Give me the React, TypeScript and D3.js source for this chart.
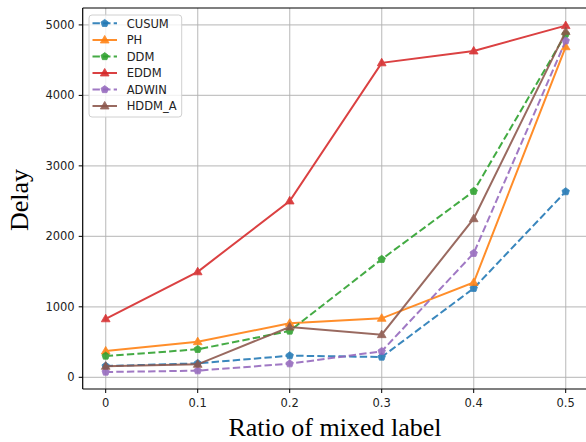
import React from "react";
import * as d3 from "d3";

const ratios = [0, 0.1, 0.2, 0.3, 0.4, 0.5];
const xTicks = [0, 0.1, 0.2, 0.3, 0.4, 0.5];
const yTicks = [0, 1000, 2000, 3000, 4000, 5000];

const cusum = [160, 198, 307, 288, 1263, 2635];
const ph = [373, 505, 766, 837, 1345, 4690];
const ddm = [302, 397, 657, 1675, 2640, 4870];
const eddm = [830, 1497, 2502, 4462, 4630, 4990];
const adwin = [75, 94, 193, 369, 1760, 4775];
const hddmA = [156, 184, 714, 605, 2250, 4905];

const seriesNames = ["CUSUM", "PH", "DDM", "EDDM", "ADWIN", "HDDM_A"];
const seriesValues = [cusum, ph, ddm, eddm, adwin, hddmA];
const seriesColors = ["#1f77b4", "#ff7f0e", "#2ca02c", "#d62728", "#9467bd", "#8c564b"];
const seriesDashed = [true, false, true, false, true, false];
const seriesMarker = ["p", "^", "p", "^", "p", "^"];

const W = 586;
const H = 442;
const left = 82.7;
const right = 588.7;
const top = 8;
const bottom = 389;

function pentagon(r: number) {
  const pts: [number, number][] = [];
  for (let i = 0; i < 5; i++) {
    const a = -Math.PI / 2 + (i * 2 * Math.PI) / 5;
    pts.push([r * Math.cos(a), r * Math.sin(a)]);
  }
  return "M" + pts.map((p) => p.join(",")).join("L") + "Z";
}
function triangle(r: number) {
  return `M0,${-r}L${r * 0.95},${r * 0.65}L${-r * 0.95},${r * 0.65}Z`;
}

function Marker({ kind, x, y, color }: { kind: string; x: number; y: number; color: string }) {
  const d = kind === "^" ? triangle(4.6) : pentagon(3.9);
  return <path d={d} transform={`translate(${x},${y})`} fill={color} stroke={color} strokeWidth={0.8} />;
}

export default function App() {
  const x = d3.scaleLinear().domain([-0.025, 0.525]).range([left, right]);
  const y = d3.scaleLinear().domain([-166, 5240]).range([bottom, top]);
  const line = d3
    .line<number>()
    .x((_, i) => x(ratios[i]))
    .y((d) => y(d));

  const tickFont = "DejaVu Sans, sans-serif";
  const legX = 89;
  const legY = 15;
  const rowY = [23.3, 40, 56.5, 73, 89.5, 106];

  return (
    <svg width={W} height={H} style={{ position: "absolute", left: 0, top: 0, background: "#fff" }}>
      <rect x={0} y={0} width={W} height={H} fill="#fff" />
      <defs>
        <clipPath id="plot">
          <rect x={left} y={top} width={right - left} height={bottom - top} />
        </clipPath>
      </defs>
      {/* grid */}
      <g stroke="#b0b0b0" strokeWidth={1.2} strokeOpacity={0.75}>
        {xTicks.map((t) => (
          <line key={"gx" + t} x1={x(t)} x2={x(t)} y1={top} y2={bottom} />
        ))}
        {yTicks.map((t) => (
          <line key={"gy" + t} x1={left} x2={right} y1={y(t)} y2={y(t)} />
        ))}
      </g>
      {/* series */}
      <g clipPath="url(#plot)">
        {seriesValues.map((vals, si) => (
          <g key={seriesNames[si]} opacity={0.88}>
            <path
              d={line(vals) || ""}
              fill="none"
              stroke={seriesColors[si]}
              strokeWidth={2}
              strokeDasharray={seriesDashed[si] ? "7.4,3.2" : undefined}
            />
            {vals.map((v, i) => (
              <Marker key={i} kind={seriesMarker[si]} x={x(ratios[i])} y={y(v)} color={seriesColors[si]} />
            ))}
          </g>
        ))}
      </g>
      {/* spines */}
      <g stroke="#000" strokeWidth={1.2} fill="none">
        <line x1={left} x2={left} y1={top} y2={bottom} />
        <line x1={left} x2={right} y1={top} y2={top} />
        <line x1={left} x2={right} y1={bottom} y2={bottom} />
        <line x1={right} x2={right} y1={top} y2={bottom} />
      </g>
      {/* ticks */}
      <g stroke="#000" strokeWidth={1}>
        {xTicks.map((t) => (
          <line key={"tx" + t} x1={x(t)} x2={x(t)} y1={bottom} y2={bottom + 4} />
        ))}
        {yTicks.map((t) => (
          <line key={"ty" + t} x1={left - 4} x2={left} y1={y(t)} y2={y(t)} />
        ))}
      </g>
      <g fontFamily={tickFont} fontSize={11.5} fill="#222">
        {xTicks.map((t) => (
          <text key={"lx" + t} x={x(t)} y={bottom + 18} textAnchor="middle">
            {d3.format("~g")(t)}
          </text>
        ))}
        {yTicks.map((t) => (
          <text key={"ly" + t} x={left - 8} y={y(t) + 4} textAnchor="end">
            {t}
          </text>
        ))}
      </g>
      {/* axis labels */}
      <text
        x={335}
        y={436}
        textAnchor="middle"
        fontFamily="Liberation Serif, Times New Roman, serif"
        fontSize={26}
        fill="#000"
      >
        Ratio of mixed label
      </text>
      <text
        transform="translate(28,200) rotate(-90)"
        textAnchor="middle"
        fontFamily="Liberation Serif, Times New Roman, serif"
        fontSize={26}
        fill="#000"
      >
        Delay
      </text>
      {/* legend */}
      <rect x={legX} y={legY} width={92.7} height={102} rx={3} fill="#fff" fillOpacity={0.8} stroke="#d0d0d0" strokeWidth={1} />
      {seriesNames.map((name, si) => (
        <g key={"leg" + name}>
          <line
            x1={92.5}
            x2={117}
            y1={rowY[si]}
            y2={rowY[si]}
            stroke={seriesColors[si]}
            strokeWidth={2}
            strokeDasharray={seriesDashed[si] ? "7.4,3.2" : undefined}
            opacity={0.88}
          />
          <g opacity={0.88}>
            <Marker kind={seriesMarker[si]} x={104.7} y={rowY[si]} color={seriesColors[si]} />
          </g>
          <text x={126.7} y={rowY[si] + 4.2} fontFamily={tickFont} fontSize={11.5} fill="#222">
            {name}
          </text>
        </g>
      ))}
    </svg>
  );
}
